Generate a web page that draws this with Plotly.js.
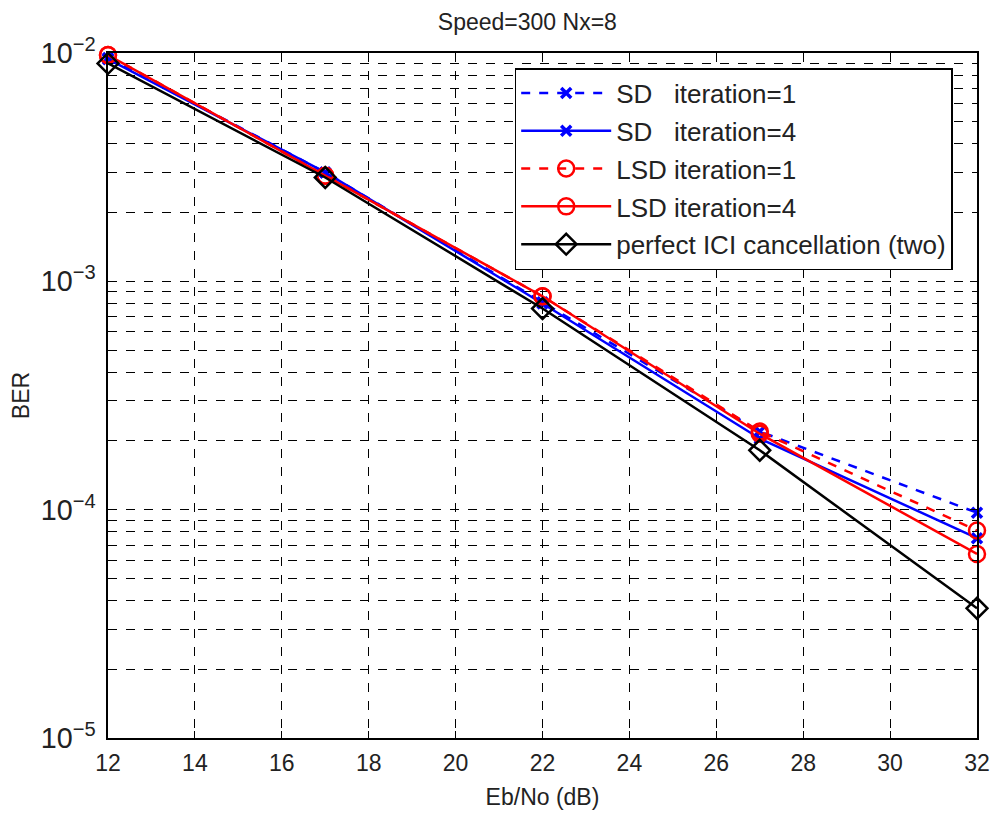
<!DOCTYPE html>
<html>
<head>
<meta charset="utf-8">
<script src="https://cdn.plot.ly/plotly-3.0.1.min.js"></script>
<style>html,body{margin:0;padding:0;background:#fff;}#chart{width:995px;height:815px;}</style>
</head>
<body>
<div id="chart"></div>
<script>
const ebno = [12, 17, 22, 27, 32];
const sdIter1 = [9.5e-3, 3.0e-3, 8.1e-4, 2.2e-4, 9.7e-5];
const sdIter4 = [9.4e-3, 3.0e-3, 8.0e-4, 2.05e-4, 7.5e-5];
const lsdIter1 = [9.8e-3, 2.9e-3, 8.6e-4, 2.2e-4, 8.1e-5];
const lsdIter4 = [9.8e-3, 2.9e-3, 8.6e-4, 2.15e-4, 6.4e-5];
const perfect = [9.0e-3, 2.85e-3, 7.6e-4, 1.82e-4, 3.7e-5];
const names = ['SD   iteration=1', 'SD   iteration=4', 'LSD iteration=1', 'LSD iteration=4', 'perfect ICI cancellation (two)'];
const xTicks = [12, 14, 16, 18, 20, 22, 24, 26, 28, 30, 32];

const FF = 'Liberation Sans, Arial, sans-serif';
const TC = '#222';

function mk(y, name, color, dash, symbol, size, lw, grp) {
  return {x: ebno, y: y, name: name, mode: 'lines+markers', cliponaxis: false,
    legendgroup: grp,
    line: {color: color, width: 2.5, dash: dash},
    marker: {symbol: symbol, size: size, color: color, line: {color: color, width: lw}}};
}

const traces = [
  mk(sdIter1, names[0], '#0000ff', 'dash', 'x-thin-open', 10, 3.5, 'a'),
  mk(sdIter4, names[1], '#0000ff', 'solid', 'x-thin-open', 10, 3.5, 'b'),
  mk(lsdIter1, names[2], '#ff0000', 'dash', 'circle-open', 16, 2.5, 'c'),
  mk(lsdIter4, names[3], '#ff0000', 'solid', 'circle-open', 16, 2.5, 'd'),
  mk(perfect, names[4], '#000000', 'solid', 'diamond-open', 16, 2.5, 'e')
];

const layout = {
  width: 995, height: 815,
  margin: {l: 108, r: 18, t: 53, b: 77},
  paper_bgcolor: '#fff', plot_bgcolor: '#fff',
  font: {family: FF, size: 23, color: TC},
  showlegend: true,
  title: {text: 'Speed=300 Nx=8', font: {family: FF, size: 23, color: TC}, x: 0.53, xanchor: 'center', y: 0.973, yanchor: 'middle'},
  xaxis: {
    range: [12, 32], tickvals: xTicks, ticktext: xTicks.map(String),
    showgrid: true, gridcolor: '#000', griddash: 'dash', gridwidth: 1,
    ticks: 'inside', ticklen: 7, tickcolor: '#000', mirror: 'allticks',
    showline: true, linecolor: '#000', linewidth: 1.5, zeroline: false,
    ticklabelstandoff: 4,
    tickfont: {family: FF, size: 23, color: TC},
    title: {text: 'Eb/No (dB)', font: {family: FF, size: 23, color: TC}, standoff: 14}
  },
  yaxis: {
    type: 'log', range: [-5, -2], dtick: 1, exponentformat: 'power', showexponent: 'all',
    showgrid: true, gridcolor: '#000', griddash: 'dash', gridwidth: 1,
    ticks: 'inside', ticklen: 7, tickcolor: '#000', mirror: 'allticks',
    showline: true, linecolor: '#000', linewidth: 1.5, zeroline: false,
    ticklabelstandoff: 6,
    tickfont: {family: FF, size: 23, color: TC},
    minor: {dtick: 'D1', showgrid: true, gridcolor: '#000', griddash: 'dash', gridwidth: 1, ticks: 'inside', ticklen: 5, tickcolor: '#000'},
    title: {text: 'BER', font: {family: FF, size: 23, color: TC}, standoff: 5}
  },
  legend: {
    x: 0.468, y: 0.978, xanchor: 'left', yanchor: 'top',
    bgcolor: '#fff', bordercolor: '#000', borderwidth: 1.5,
    font: {family: FF, size: 26, color: TC},
    tracegroupgap: 1, itemwidth: 90
  }
};

Plotly.newPlot('chart', traces, layout, {displayModeBar: false});
</script>
</body>
</html>
